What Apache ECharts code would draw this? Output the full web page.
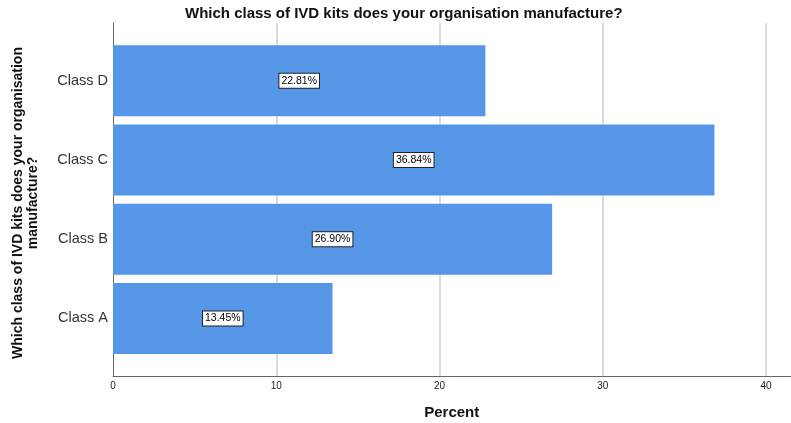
<!DOCTYPE html>
<html>
<head>
<meta charset="utf-8">
<script src="https://cdn.jsdelivr.net/npm/echarts@6/dist/echarts.min.js"></script>
<style>
  html, body { margin: 0; padding: 0; background: #fff; }
  #chart { width: 791px; height: 423px; }
</style>
</head>
<body>
<div id="chart"></div>
<script>
// data
var categories = ['Class A', 'Class B', 'Class C', 'Class D'];
var percents = [13.45, 26.90, 36.84, 22.81];
var xTicks = [0, 10, 20, 30, 40];

var FONT = '"Liberation Sans", Arial, sans-serif';

var chart = echarts.init(document.getElementById('chart'));

var option = {
    animation: false,
    textStyle: { fontFamily: FONT },
    title: {
        text: 'Which class of IVD kits does your organisation manufacture?',
        left: 180,
        top: 1,
        textStyle: { fontFamily: FONT, fontSize: 15, fontWeight: 'bold', color: '#111' }
    },
    grid: [
        // bars
        { left: 113, width: 677.5, top: 41, height: 317, outerBoundsMode: 'none', containLabel: false },
        // frame: axis lines, grid lines
        { left: 113, width: 677.5, top: 23, height: 353, outerBoundsMode: 'none', containLabel: false }
    ],
    xAxis: [
        { gridIndex: 0, type: 'value', min: 0, max: 41.5, show: false },
        {
            gridIndex: 1, type: 'value', min: 0, max: 41.5, interval: 10,
            name: 'Percent', nameLocation: 'middle', nameGap: 29,
            nameTextStyle: { fontFamily: FONT, fontSize: 15, fontWeight: 'bold', color: '#111' },
            axisLine: { show: true, lineStyle: { color: '#666', width: 1 } },
            axisTick: { show: false },
            axisLabel: {
                showMaxLabel: false, margin: 5, fontSize: 10, color: '#222', fontFamily: FONT,
                formatter: function (v) { return xTicks.indexOf(v) >= 0 ? String(v) : ''; }
            },
            splitLine: { show: true, showMinLine: false, showMaxLine: false, lineStyle: { color: '#cfcfcf', width: 1.5 } }
        }
    ],
    yAxis: [
        {
            gridIndex: 0, type: 'category', data: categories,
            axisLine: { show: false },
            axisTick: { show: false },
            axisLabel: { margin: 5, fontSize: 14.5, color: '#333', fontFamily: FONT }
        },
        {
            gridIndex: 1, type: 'value', min: 0, max: 1,
            axisLine: { show: true, lineStyle: { color: '#666', width: 1 } },
            axisTick: { show: false },
            axisLabel: { show: false },
            splitLine: { show: false }
        }
    ],
    graphic: [{
        type: 'text',
        x: 25.5,
        y: 203,
        rotation: Math.PI / 2,
        style: {
            text: 'Which class of IVD kits does your organisation\nmanufacture?',
            font: 'bold 14px ' + FONT,
            fill: '#111',
            align: 'center',
            verticalAlign: 'middle',
            lineHeight: 15
        }
    }],
    series: [{
        type: 'bar',
        xAxisIndex: 0,
        yAxisIndex: 0,
        data: percents,
        barWidth: 71,
        itemStyle: { color: '#5596e6' },
        label: {
            show: true,
            position: 'inside',
            formatter: function (p) { return p.value.toFixed(2) + '%'; },
            fontSize: 10.5,
            fontFamily: FONT,
            color: '#000',
            backgroundColor: '#fff',
            borderColor: '#222',
            borderWidth: 1,
            padding: [2, 2, 1, 2]
        }
    }]
};

chart.setOption(option);
</script>
</body>
</html>
